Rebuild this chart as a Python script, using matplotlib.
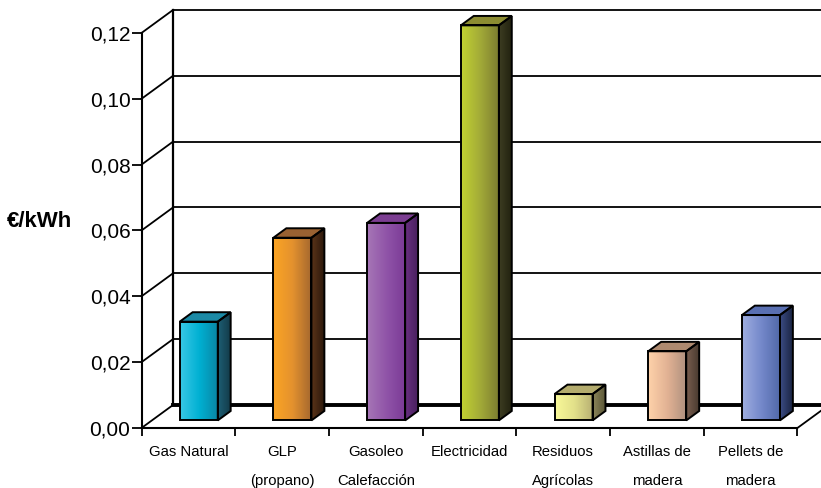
import numpy as np
import matplotlib
matplotlib.use('Agg')
import matplotlib.pyplot as plt
from matplotlib.colors import LinearSegmentedColormap
from matplotlib.patches import Polygon
from matplotlib.ticker import FuncFormatter

plt.rcParams['font.family'] = ['Liberation Sans', 'DejaVu Sans']

# Datos: coste de la energía por combustible
categorias = ['Gas Natural', 'GLP\n(propano)', 'Gasoleo\nCalefacción', 'Electricidad',
              'Residuos\nAgrícolas', 'Astillas de\nmadera', 'Pellets de\nmadera']
precios = [0.030, 0.0555, 0.060, 0.120, 0.008, 0.021, 0.032]
marcas_y = [0.00, 0.02, 0.04, 0.06, 0.08, 0.10, 0.12]

# Colores de cada barra: frente (claro -> oscuro), techo y lateral
frente = [('#38c8e6', '#00b0d2', '#0a84a2'),
          ('#fba423', '#e4922e', '#a4672f'),
          ('#a676b6', '#9054a8', '#7a3a96'),
          ('#c2d232', '#a2aa38', '#7a7a30'),
          ('#f8f898', '#e2e08a', '#b6ae72'),
          ('#fed2aa', '#e2b294', '#ae907e'),
          ('#9eaee0', '#7488ca', '#5068a8')]
techo = ['#1c8aa6', '#9a6232', '#7c3e92', '#8c8c32', '#b4ac6e', '#ae8a70', '#5a70b2']
lateral = [('#1e5e74', '#123a48'), ('#5c3419', '#2e1a0c'), ('#6a3082', '#48205e'),
           ('#3c3c22', '#22220f'), ('#8a8458', '#5a5638'), ('#7a6050', '#4a3a30'),
           ('#3c4c84', '#1a2442')]

# Perspectiva
DX = 31.5 / 93.7      # desplazamiento en profundidad (categorías)
DY = 23.0 / 3292.0    # desplazamiento en profundidad (€/kWh)
ANCHO = 0.406
F0, F1 = 0.33, 0.74   # posición en profundidad de la barra

fig = plt.figure(figsize=(8.21, 4.88), dpi=100)
ax = fig.add_axes([0, 0, 1, 1])
xlim = (-141.5 / 93.7, (821 - 141.5) / 93.7)
ylim = (-60.0 / 3292.0, 428.0 / 3292.0)


def relleno_degradado(puntos, colores, z):
    """Rellena un polígono con un degradado horizontal."""
    poly = Polygon(puntos, closed=True, facecolor='none', edgecolor='black',
                   linewidth=1.4, zorder=z + 0.5, joinstyle='miter')
    ax.add_patch(poly)
    xs = [p[0] for p in puntos]
    ys = [p[1] for p in puntos]
    cmap = LinearSegmentedColormap.from_list('g', colores)
    grad = np.linspace(0, 1, 64).reshape(1, -1)
    im = ax.imshow(grad, cmap=cmap, aspect='auto', interpolation='bicubic',
                   extent=(min(xs), max(xs), min(ys), max(ys)), zorder=z)
    im.set_clip_path(poly)


# Pared del fondo y lateral
lw_grid = 1.3
for t in marcas_y:
    ax.plot([DX, 7 + DX], [t + DY, t + DY], color='black', lw=lw_grid, zorder=1,
            clip_on=False, solid_capstyle='butt')
    ax.plot([0, DX], [t, t + DY], color='black', lw=lw_grid, zorder=1, clip_on=False)
ax.plot([DX, 7 + DX], [DY, DY], color='black', lw=2.8, zorder=1.2, clip_on=False)
ax.plot([DX, DX], [DY, 0.12 + DY], color='black', lw=1.6, zorder=1, clip_on=False)
ax.plot([7, 7 + DX], [0, DY], color='black', lw=lw_grid, zorder=1, clip_on=False)

# Barras en pseudo-3D
for i, v in enumerate(precios):
    x0 = i + (1 - ANCHO) / 2 + F0 * DX
    x1 = x0 + ANCHO
    y0 = F0 * DY
    y1 = v + F0 * DY
    ddx = (F1 - F0) * DX
    ddy = (F1 - F0) * DY
    relleno_degradado([(x0, y0), (x1, y0), (x1, y1), (x0, y1)], frente[i], 3)
    relleno_degradado([(x1, y0), (x1 + ddx, y0 + ddy), (x1 + ddx, y1 + ddy), (x1, y1)],
                      lateral[i], 3)
    relleno_degradado([(x0, y1), (x1, y1), (x1 + ddx, y1 + ddy), (x0 + ddx, y1 + ddy)],
                      (techo[i], techo[i]), 3)

ax.set_xlim(*xlim)
ax.set_ylim(*ylim)

# Ejes
for lado in ['top', 'right']:
    ax.spines[lado].set_visible(False)
ax.spines['left'].set_position(('data', 0))
ax.spines['bottom'].set_position(('data', 0))
ax.spines['left'].set_bounds(0, 0.12)
ax.spines['bottom'].set_bounds(0, 7)
ax.spines['left'].set_linewidth(1.5)
ax.spines['bottom'].set_linewidth(1.5)
ax.patch.set_visible(False)

ax.set_yticks(marcas_y)
ax.yaxis.set_major_formatter(FuncFormatter(lambda v, p: f'{v:.2f}'.replace('.', ',')))
ax.tick_params(axis='y', direction='out', length=7, width=1.3, pad=1, labelsize=15)

ax.set_xticks(np.arange(8))
ax.set_xticklabels([])
ax.set_xticks(np.arange(7) + 0.5, categorias, minor=True)
ax.tick_params(axis='x', which='major', direction='out', length=5.5, width=1.3)
ax.tick_params(axis='x', which='minor', length=0, pad=12, labelsize=10.7)
for t in ax.get_xticklabels(minor=True):
    t.set_linespacing(2.4)

fig.text(39.5 / 821, 1 - 221.5 / 488, '€/kWh', ha='center', va='center',
         fontsize=16, fontweight='bold')

fig.savefig('out.png', dpi=100)
